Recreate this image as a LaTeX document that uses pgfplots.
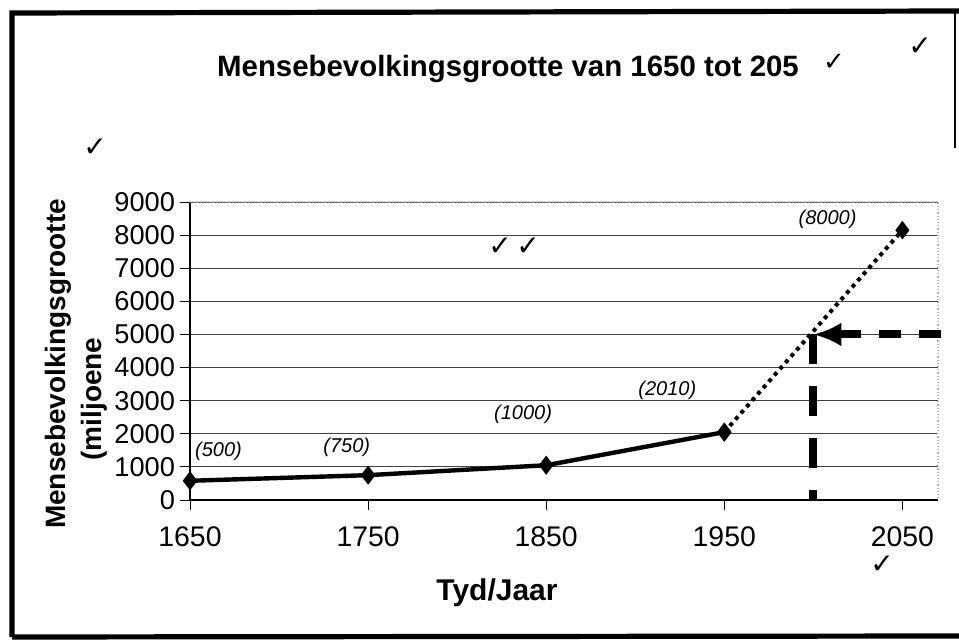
\documentclass[border=0pt]{standalone}
\usepackage{pgfplots}
\pgfplotsset{compat=1.18}
\usetikzlibrary{arrows.meta}
\usepackage{fontspec}
\setmainfont{Liberation Sans}
\newfontfamily\dejavu{DejaVu Sans}
\begin{document}
\begin{tikzpicture}[x=0.5pt,y=0.5pt]
\path[use as bounding box] (0,0) rectangle (959,643);
% outer frame
\draw[line width=2.6pt] (12,6) -- (12,630) -- (959,632);
\draw[line width=2.6pt] (12,6) -- (959,7);
\draw[line width=1pt] (955,631) -- (955,495);
\begin{axis}[
  at={(95pt,71.5pt)}, anchor=south west,
  scale only axis, width=374pt, height=149pt,
  xmin=1650, xmax=2070, ymin=0, ymax=9000,
  xtick={1650,1750,1850,1950,2050},
  ytick={0,1000,2000,3000,4000,5000,6000,7000,8000,9000},
  ymajorgrids, grid style={line width=0.5pt, black!75},
  axis x line*=bottom, axis y line*=left,
  axis line style={line width=0.7pt, black},
  tick align=outside, major tick length=5pt, tick style={black, line width=0.5pt},
  x tick label style={font=\fontsize{14.2}{16}\selectfont, yshift=-5pt},
  y tick label style={font=\fontsize{13.6}{16}\selectfont, xshift=1pt},
  /pgf/number format/assume math mode=true,
  /pgf/number format/set thousands separator={},
  clip=false,
]
\draw[gray!60, densely dotted, line width=0.6pt] (rel axis cs:0,1) -- (rel axis cs:1,1) -- (rel axis cs:1,0);
\addplot[line width=2.2pt, black, mark=diamond*, mark size=3pt, mark options={solid}]
  coordinates {(1650,580) (1750,750) (1850,1050) (1950,2050)};
\addplot[line width=2pt, black, dash pattern=on 2pt off 2.2pt, mark=diamond*, mark size=3pt, mark options={solid}]
  coordinates {(1950,2050) (2050,8150)};
% reading lines
\addplot[line width=4pt, black, dash pattern=on 15pt off 11pt, forget plot]
  coordinates {(2000,5000) (2000,0)};
\addplot[line width=4pt, black, dash pattern=on 11pt off 9pt, {Latex[length=14pt,width=12pt]}-, forget plot]
  coordinates {(2000,5000) (2081,5000)};
% value labels
\node[font=\fontsize{10}{12}\selectfont\itshape] at (axis cs:1666,1470) {(500)};
\node[font=\fontsize{10}{12}\selectfont\itshape] at (axis cs:1738,1590) {(750)};
\node[font=\fontsize{10}{12}\selectfont\itshape] at (axis cs:1837,2590) {(1000)};
\node[font=\fontsize{10}{12}\selectfont\itshape] at (axis cs:1918,3300) {(2010)};
\node[font=\fontsize{10}{12}\selectfont\itshape] at (axis cs:2008,8480) {(8000)};
\node[font=\dejavu\fontsize{14}{16}\selectfont] at (axis cs:1832,7650) {✓\,✓};
\end{axis}
\node[font=\bfseries\fontsize{14.7}{17}\selectfont] at (508,574) {Mensebevolkingsgrootte van 1650 tot 205};
\node[font=\dejavu\fontsize{13}{15}\selectfont] at (834,581) {✓};
\node[font=\dejavu\fontsize{14}{16}\selectfont] at (920,596) {✓};
\node[font=\dejavu\fontsize{14}{16}\selectfont] at (95,495) {✓};
\node[font=\dejavu\fontsize{14}{16}\selectfont] at (882,78) {✓};
\node[rotate=90, font=\bfseries\fontsize{14}{16}\selectfont] at (58,279) {Mensebevolkingsgrootte};
\node[rotate=90, font=\bfseries\fontsize{14}{16}\selectfont] at (94,244) {(miljoene};
\node[font=\bfseries\fontsize{15}{17}\selectfont] at (497,50) {Tyd/Jaar};
\end{tikzpicture}
\end{document}
